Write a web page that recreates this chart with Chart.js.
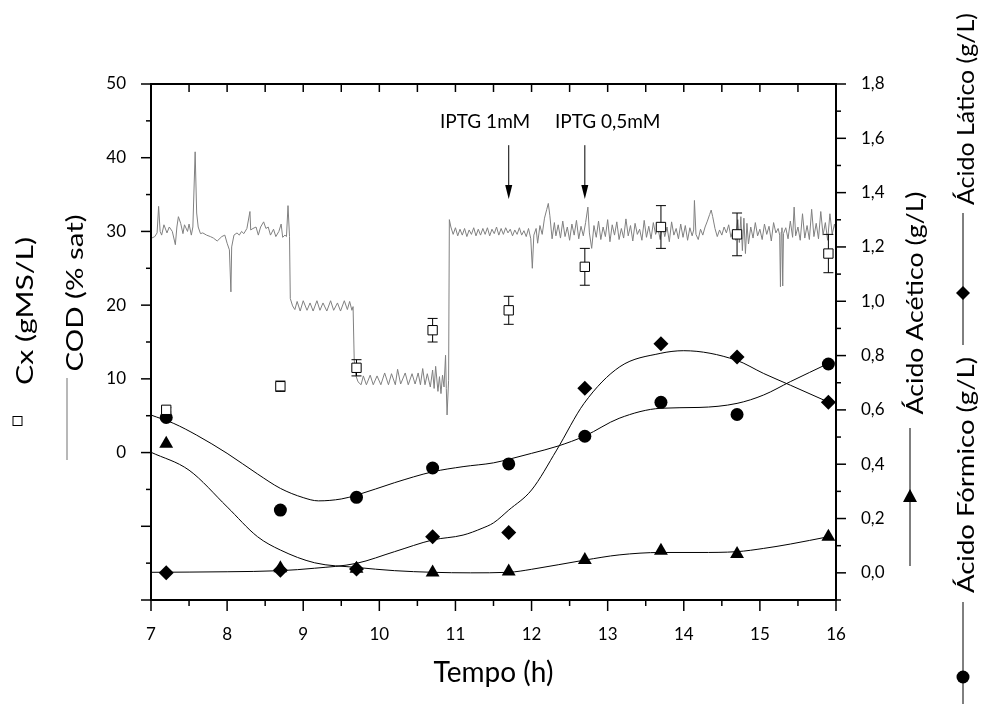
<!DOCTYPE html>
<html>
<head>
<meta charset="utf-8">
<title>Cultivo - COD, Cx e ácidos</title>
<script src="https://cdn.jsdelivr.net/npm/chart.js@4.4.0/dist/chart.umd.min.js"></script>
<style>
  html, body { margin: 0; padding: 0; background: #fff; }
  #mycanvas { display: block; }
</style>
</head>
<body>
<canvas id="mycanvas" width="986" height="704"></canvas>
<script>
// tempos de amostragem (h)
var tempo = [7.2, 8.7, 9.7, 10.7, 11.7, 12.7, 13.7, 14.7, 15.9];
// Cx (gMS/L) e desvio
var cx    = [5.8, 9.0, 11.5, 16.6, 19.3, 25.2, 30.6, 29.6, 27.0];
var cxErr = [0.3, 0.7, 1.1, 1.6, 1.9, 2.5, 2.9, 2.9, 2.6];
// ácidos (g/L)
var formico = [0.572, 0.231, 0.278, 0.386, 0.401, 0.503, 0.628, 0.583, 0.769];
var latico  = [0.000, 0.010, 0.014, 0.133, 0.149, 0.680, 0.844, 0.795, 0.628];
var acetico = [0.475, 0.017, 0.015, 0.001, 0.005, 0.047, 0.081, 0.069, 0.133];

// curvas ajustadas
var fitFormicoT = [7.0, 7.3, 7.6, 8.0, 8.4, 8.7, 9.0, 9.2, 9.5, 9.7, 10.2, 10.7, 11.1, 11.5, 11.7, 12.0, 12.35, 12.7, 13.15, 13.7, 14.2, 14.7, 15.05, 15.4, 15.9];
var fitFormico  = [0.581, 0.550, 0.507, 0.440, 0.364, 0.311, 0.277, 0.265, 0.272, 0.286, 0.332, 0.372, 0.391, 0.405, 0.418, 0.440, 0.467, 0.504, 0.569, 0.606, 0.609, 0.624, 0.655, 0.704, 0.771];
var fitAceticoT = [7.0, 7.5, 8.0, 8.4, 8.7, 9.15, 9.7, 10.2, 10.7, 11.2, 11.7, 12.0, 12.7, 13.15, 13.7, 14.2, 14.7, 15.05, 15.4, 15.9];
var fitAcetico  = [0.444, 0.378, 0.243, 0.133, 0.084, 0.037, 0.020, 0.008, 0.002, 0.000, 0.002, 0.013, 0.047, 0.066, 0.075, 0.075, 0.078, 0.090, 0.106, 0.133];
var fitLaticoT  = [7.0, 8.0, 8.7, 9.15, 9.7, 10.2, 10.7, 11.1, 11.35, 11.5, 11.7, 12.0, 12.33, 12.69, 13.16, 13.69, 14.0, 14.69, 15.05, 15.4, 15.89];
var fitLatico   = [0.002, 0.004, 0.008, 0.017, 0.035, 0.078, 0.121, 0.139, 0.164, 0.184, 0.231, 0.305, 0.452, 0.624, 0.759, 0.808, 0.818, 0.783, 0.734, 0.691, 0.630];

// COD (% sat) - sinal do oxímetro
var codT = [7.01,7.05,7.08,7.10,7.12,7.14,7.17,7.21,7.24,7.28,7.32,7.34,7.36,7.39,7.42,7.44,7.48,7.50,7.53,7.55,7.58,7.60,7.62,7.65,7.68,7.73,7.78,7.82,7.87,7.93,7.97,8.00,8.03,8.05,8.06,8.09,8.13,8.16,8.19,8.22,8.26,8.30,8.31,8.34,8.38,8.41,8.44,8.48,8.51,8.54,8.57,8.61,8.64,8.68,8.71,8.73,8.76,8.78,8.80,8.82,8.83,8.86,
  8.89,8.92,8.96,9.00,9.05,9.09,9.13,9.18,9.22,9.26,9.31,9.36,9.40,9.45,9.49,9.54,9.58,9.61,9.64,9.655,9.67,9.69,
  9.72,9.76,9.79,9.83,9.88,9.92,9.97,10.02,10.07,10.12,10.16,10.21,10.24,10.28,10.34,10.38,10.43,10.47,10.51,10.54,10.57,10.60,10.63,10.67,10.70,10.72,10.74,10.77,10.79,10.81,10.83,10.85,10.87,10.88,10.89,10.91,10.92,
  10.94,10.97,11.00,11.03,11.06,11.09,11.12,11.15,11.18,11.21,11.24,11.27,11.30,
  11.33,11.36,11.39,11.42,11.45,11.48,11.51,11.54,11.57,11.60,11.63,11.66,11.69,11.72,11.75,11.78,11.81,11.84,11.87,11.90,11.93,11.96,11.99,
  12.01,12.03,12.06,12.08,12.11,12.14,12.17,12.20,12.22,12.24,12.27,12.30,12.32,12.35,12.38,12.41,12.44,12.47,12.50,12.53,12.56,12.59,12.62,12.65,12.68,12.71,12.74,12.76,12.79,12.82,12.85,12.88,12.91,12.94,12.97,
  13.00,13.03,13.06,13.09,13.12,13.15,13.18,13.21,13.24,13.27,13.30,13.33,13.36,13.39,13.42,13.45,13.48,13.51,13.54,13.57,13.60,13.63,13.66,13.69,13.72,13.75,13.78,13.81,13.84,13.87,13.90,13.93,13.96,13.99,
  14.02,14.05,14.08,14.11,14.13,14.14,14.16,14.19,14.22,14.25,14.28,14.31,14.34,14.36,14.38,14.41,14.44,14.47,14.50,14.53,14.56,14.59,14.62,14.65,14.68,14.71,14.73,14.75,14.77,14.79,14.81,14.83,14.85,14.88,14.91,14.94,14.97,
  15.00,15.03,15.06,15.09,15.12,15.15,15.18,15.21,15.24,15.26,15.27,15.28,15.29,15.30,15.31,15.34,15.37,15.40,15.43,15.45,15.47,15.50,15.53,15.56,15.59,15.62,15.65,15.68,15.71,15.74,15.77,15.80,15.83,15.86,15.89,15.92,15.95,15.98,16.0];
var codV = [29.1,29.3,29.8,33.4,30.0,29.5,30.9,29.8,30.6,30.0,28.2,30.6,32.0,31.1,29.7,30.9,30.0,31.0,29.5,30.6,40.8,32.5,30.6,29.7,29.8,29.5,29.3,29.1,28.7,29.3,29.5,28.4,27.5,21.8,27.9,29.5,29.8,29.5,30.0,29.7,30.4,32.7,30.2,30.4,30.6,29.5,30.6,31.3,30.4,30.6,29.5,30.3,29.3,30.0,31.0,29.2,29.5,29.3,33.5,29.3,20.9,19.9,
  19.4,20.5,19.2,20.6,19.3,20.3,19.2,20.6,19.3,20.3,19.2,20.6,19.3,20.3,19.2,20.6,19.4,20.5,19.3,19.8,12.6,10.5,
  9.6,9.2,10.4,9.2,10.5,9.2,10.4,9.2,10.8,9.2,10.7,9.2,11.3,9.3,10.8,9.2,10.7,9.3,10.8,9.2,11.4,9.2,10.7,8.9,11.2,8.7,11.7,8.3,10.3,8.0,10.5,8.9,13.2,8.7,5.1,9.8,31.6,
  30.6,29.6,30.5,29.4,30.3,29.5,30.4,29.3,30.2,29.6,30.5,29.4,30.3,
  29.5,30.4,29.6,30.5,29.4,30.3,29.7,30.6,29.5,30.4,29.6,30.5,29.8,30.3,29.4,30.2,29.6,30.5,29.5,30.1,29.3,30.4,29.0,
  25.0,29.5,30.4,28.4,30.8,29.6,31.8,33.0,33.8,32.2,29.0,31.2,29.4,30.9,29.1,31.4,29.3,30.6,28.8,31.0,29.5,31.5,29.0,30.7,29.4,31.2,33.3,29.8,27.7,30.8,29.2,31.4,28.9,30.6,29.3,
  31.6,28.6,30.9,29.5,31.3,28.9,30.4,29.1,31.7,29.4,30.8,28.7,31.1,29.6,30.3,28.8,31.5,29.2,30.7,29.0,31.2,29.6,30.5,28.9,31.0,29.3,30.6,28.6,31.3,29.5,30.4,29.0,31.0,29.2,
  30.8,28.8,30.5,29.4,30.2,34.2,29.6,28.9,30.3,29.5,30.6,31.4,32.3,32.9,32.0,30.4,29.3,30.2,29.5,30.6,29.8,30.9,29.2,30.3,28.8,31.6,28.5,32.0,27.4,31.8,27.0,31.1,28.3,30.6,29.1,31.2,29.4,
  30.3,28.9,31.0,29.6,30.7,28.7,31.2,29.8,30.4,29.5,22.5,29.9,30.5,22.6,29.7,30.5,29.0,31.4,29.2,33.3,29.4,30.6,28.8,32.4,29.1,30.8,28.9,33.0,29.3,31.1,29.0,32.7,29.5,31.2,28.8,32.4,29.6,31.0,30.0];

// anotações (adição de IPTG)
var iptgT = [11.7, 12.7];
var iptgTextoT = [11.39, 13.0];
var iptgTexto = ['IPTG 1mM', 'IPTG 0,5mM'];

function pares(xs, ys) {
  return xs.map(function(x, i) { return { x: x, y: ys[i] }; });
}

function textoVertical(ctx, txt, cx, cy, tam, comp) {
  ctx.save();
  ctx.font = tam + 'px Lato';
  var w = ctx.measureText(txt).width;
  ctx.translate(cx, cy);
  ctx.rotate(-Math.PI / 2);
  ctx.scale(comp / w, 1);
  ctx.textAlign = 'center';
  ctx.textBaseline = 'middle';
  ctx.fillStyle = '#000';
  ctx.fillText(txt, 0, 0);
  ctx.restore();
}

function linha(ctx, x1, y1, x2, y2, cor) {
  ctx.beginPath();
  ctx.moveTo(x1, y1);
  ctx.lineTo(x2, y2);
  ctx.strokeStyle = cor || '#000';
  ctx.stroke();
}

var decoracoes = {
  id: 'decoracoes',
  beforeDatasetDraw: function(chart, args) {
    // barras de erro de Cx, por baixo dos quadrados
    if (args.index !== 0) return;
    var ctx = chart.ctx, sx = chart.scales.x, sy = chart.scales.y;
    ctx.save();
    ctx.lineWidth = 1;
    for (var i = 0; i < tempo.length; i++) {
      var px = sx.getPixelForValue(tempo[i]);
      var y1 = sy.getPixelForValue(cx[i] + cxErr[i]);
      var y2 = sy.getPixelForValue(cx[i] - cxErr[i]);
      linha(ctx, px, y1, px, y2);
      linha(ctx, px - 5, y1, px + 5, y1);
      linha(ctx, px - 5, y2, px + 5, y2);
    }
    ctx.restore();
  },
  afterDraw: function(chart) {
    var ctx = chart.ctx, a = chart.chartArea;
    var sx = chart.scales.x, sy = chart.scales.y, sy1 = chart.scales.y1;
    var i, v, p;
    ctx.save();
    ctx.lineWidth = 2;
    ctx.strokeStyle = '#000';
    ctx.strokeRect(a.left, a.top, a.right - a.left, a.bottom - a.top);

    ctx.lineWidth = 1.5;
    // eixo esquerdo
    for (i = 0; i <= 14; i++) {
      v = -20 + i * 5;
      p = sy.getPixelForValue(v);
      linha(ctx, a.left, p, a.left - (v % 10 === 0 ? 10 : 5), p);
    }
    // eixo direito
    for (i = 0; i <= 19; i++) {
      v = -0.1 + i * 0.1;
      p = sy1.getPixelForValue(v);
      linha(ctx, a.right, p, a.right + (i % 2 === 1 ? 10 : 5), p);
    }
    // eixo inferior e superior
    for (i = 0; i <= 18; i++) {
      v = 7 + i * 0.5;
      p = sx.getPixelForValue(v);
      linha(ctx, p, a.bottom, p, a.bottom + (i % 2 === 0 ? 11 : 6));
      if (i > 0 && i < 18) linha(ctx, p, a.top, p, a.top + 8);
    }

    // IPTG
    ctx.lineWidth = 1;
    ctx.font = '19px Lato';
    ctx.fillStyle = '#000';
    ctx.textAlign = 'center';
    ctx.textBaseline = 'middle';
    for (i = 0; i < iptgT.length; i++) {
      ctx.fillText(iptgTexto[i], sx.getPixelForValue(iptgTextoT[i]), sy.getPixelForValue(44.8));
      var ax = sx.getPixelForValue(iptgT[i]);
      var topo = sy.getPixelForValue(41.7), ponta = sy.getPixelForValue(34.4);
      linha(ctx, ax, topo, ax, ponta - 10);
      ctx.beginPath();
      ctx.moveTo(ax - 3.5, ponta - 14);
      ctx.lineTo(ax + 3.5, ponta - 14);
      ctx.lineTo(ax, ponta);
      ctx.closePath();
      ctx.fill();
    }

    // legendas verticais à esquerda
    textoVertical(ctx, 'Cx (gMS/L)', 25, 311, 24, 148);
    textoVertical(ctx, 'COD (% sat)', 75, 293, 24, 157);
    ctx.lineWidth = 1;
    ctx.fillStyle = '#fff';
    ctx.fillRect(13, 416.5, 9, 9);
    ctx.strokeRect(13, 416.5, 9, 9);
    ctx.lineWidth = 1.5;
    linha(ctx, 67, 378, 67, 460, '#a0a0a0');

    // legendas verticais à direita
    textoVertical(ctx, 'Ácido Acético (g/L)', 916, 303, 23, 223);
    textoVertical(ctx, 'Ácido Lático (g/L)', 967, 109, 23, 192);
    textoVertical(ctx, 'Ácido Fórmico (g/L)', 967, 475, 23, 236);
    ctx.lineWidth = 1;
    linha(ctx, 910, 428, 910, 566);
    linha(ctx, 963, 213, 963, 345);
    linha(ctx, 963, 602, 963, 720);
    ctx.fillStyle = '#000';
    ctx.beginPath();
    ctx.moveTo(910, 489); ctx.lineTo(917, 502); ctx.lineTo(903, 502); ctx.closePath(); ctx.fill();
    ctx.beginPath();
    ctx.moveTo(963, 286); ctx.lineTo(970, 293); ctx.lineTo(963, 300); ctx.lineTo(956, 293); ctx.closePath(); ctx.fill();
    ctx.beginPath();
    ctx.arc(963, 677, 6.5, 0, Math.PI * 2); ctx.fill();
    ctx.restore();
  }
};

Chart.defaults.font.family = 'Lato';
Chart.defaults.color = '#000';

var ctx = document.getElementById('mycanvas');
var grafico = new Chart(ctx, {
  type: 'line',
  data: {
    datasets: [
      { label: 'Cx (gMS/L)', data: pares(tempo, cx), yAxisID: 'y', showLine: false,
        pointStyle: 'rect', pointRadius: 6.6, backgroundColor: '#fff', borderColor: '#000', borderWidth: 1 },
      { label: 'Ácido Fórmico (g/L)', data: pares(tempo, formico), yAxisID: 'y1', showLine: false,
        pointStyle: 'circle', pointRadius: 6.5, backgroundColor: '#000', borderColor: '#000', borderWidth: 0 },
      { label: 'Ácido Lático (g/L)', data: pares(tempo, latico), yAxisID: 'y1', showLine: false,
        pointStyle: 'rectRot', pointRadius: 7.5, backgroundColor: '#000', borderColor: '#000', borderWidth: 0 },
      { label: 'Ácido Acético (g/L)', data: pares(tempo, acetico), yAxisID: 'y1', showLine: false,
        pointStyle: 'triangle', pointRadius: 8, backgroundColor: '#000', borderColor: '#000', borderWidth: 0 },
      { label: 'ajuste fórmico', data: pares(fitFormicoT, fitFormico), yAxisID: 'y1',
        borderColor: '#000', borderWidth: 1, pointRadius: 0, cubicInterpolationMode: 'monotone' },
      { label: 'ajuste lático', data: pares(fitLaticoT, fitLatico), yAxisID: 'y1',
        borderColor: '#000', borderWidth: 1, pointRadius: 0, cubicInterpolationMode: 'monotone' },
      { label: 'ajuste acético', data: pares(fitAceticoT, fitAcetico), yAxisID: 'y1',
        borderColor: '#000', borderWidth: 1, pointRadius: 0, cubicInterpolationMode: 'monotone' },
      { label: 'COD (% sat)', data: pares(codT, codV), yAxisID: 'y',
        borderColor: '#808080', borderWidth: 1, pointRadius: 0, tension: 0 }
    ]
  },
  options: {
    responsive: false,
    devicePixelRatio: 1,
    animation: false,
    events: [],
    layout: { padding: { top: 84, left: 0, right: 0, bottom: 0 } },
    plugins: { legend: { display: false }, tooltip: { enabled: false } },
    scales: {
      x: {
        type: 'linear', position: 'bottom', min: 7, max: 16,
        grid: { display: false }, border: { display: false },
        ticks: { stepSize: 1, font: { size: 17 }, padding: 16 },
        title: { display: true, text: 'Tempo (h)', font: { size: 28 }, padding: { top: 0, bottom: 14 } },
        afterFit: function(s) { s.height = 104; }
      },
      y: {
        position: 'left', min: -20, max: 50,
        grid: { display: false }, border: { display: false },
        ticks: { stepSize: 10, font: { size: 17 }, padding: 17,
          callback: function(v) { return v < 0 ? '' : v; } },
        afterFit: function(s) { s.width = 151; }
      },
      y1: {
        position: 'right', min: -0.1, max: 1.8,
        grid: { display: false }, border: { display: false },
        ticks: { stepSize: 0.2, includeBounds: false, font: { size: 17 }, padding: 17,
          callback: function(v) { return v < -0.01 ? '' : v.toFixed(1).replace('.', ','); } },
        afterFit: function(s) { s.width = 150; }
      }
    }
  },
  plugins: [decoracoes]
});
</script>
</body>
</html>
